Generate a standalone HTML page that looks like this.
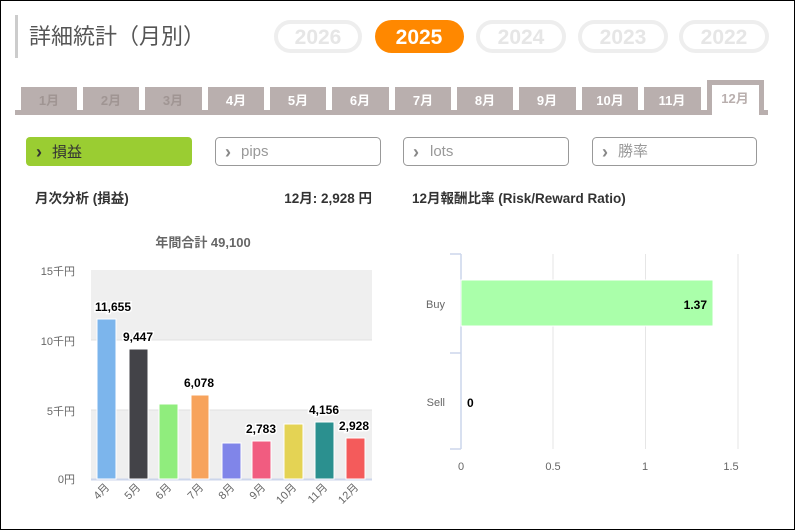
<!DOCTYPE html>
<html><head><meta charset="utf-8"><style>
body{margin:0;width:795px;height:530px;overflow:hidden;background:#fff}
svg{display:block}
text{font-family:"Liberation Sans","Noto Sans CJK JP",sans-serif}
</style></head><body>
<svg width="795" height="530" viewBox="0 0 795 530">
<rect x="0.5" y="0.5" width="794" height="529" fill="#fff" stroke="#000"/>
<rect x="15" y="15" width="3" height="43" fill="#ccc"/>
<text x="29" y="44" font-size="22" fill="#555">詳細統計（月別）</text>
<g font-size="21" font-weight="bold" text-anchor="middle">
<rect x="276" y="22" width="84" height="29" rx="14.5" fill="#fff" stroke="#eee" stroke-width="4"/><text x="318" y="44" fill="#e6e6e6">2026</text>
<rect x="375" y="20" width="89" height="33" rx="16.5" fill="#ff8800"/><text x="419" y="44" fill="#fff">2025</text>
<rect x="478" y="22" width="86" height="29" rx="14.5" fill="#fff" stroke="#eee" stroke-width="4"/><text x="521" y="44" fill="#e6e6e6">2024</text>
<rect x="580" y="22" width="86" height="29" rx="14.5" fill="#fff" stroke="#eee" stroke-width="4"/><text x="623" y="44" fill="#e6e6e6">2023</text>
<rect x="681" y="22" width="86" height="29" rx="14.5" fill="#fff" stroke="#eee" stroke-width="4"/><text x="724" y="44" fill="#e6e6e6">2022</text>
</g>
<rect x="15" y="110" width="753" height="5" fill="#b9afae"/>
<g font-size="13" font-weight="bold" text-anchor="middle">
<rect x="21" y="87" width="56" height="23" fill="#b9afae"/><text x="49" y="105" fill="#a09593">1月</text>
<rect x="83" y="87" width="56" height="23" fill="#b9afae"/><text x="111" y="105" fill="#a09593">2月</text>
<rect x="145" y="87" width="57" height="23" fill="#b9afae"/><text x="173" y="105" fill="#a09593">3月</text>
<rect x="208" y="87" width="56" height="23" fill="#b9afae"/><text x="236" y="105" fill="#fff">4月</text>
<rect x="270" y="87" width="56" height="23" fill="#b9afae"/><text x="298" y="105" fill="#fff">5月</text>
<rect x="332" y="87" width="57" height="23" fill="#b9afae"/><text x="360" y="105" fill="#fff">6月</text>
<rect x="395" y="87" width="56" height="23" fill="#b9afae"/><text x="423" y="105" fill="#fff">7月</text>
<rect x="457" y="87" width="56" height="23" fill="#b9afae"/><text x="485" y="105" fill="#fff">8月</text>
<rect x="519" y="87" width="57" height="23" fill="#b9afae"/><text x="547" y="105" fill="#fff">9月</text>
<rect x="582" y="87" width="56" height="23" fill="#b9afae"/><text x="610" y="105" fill="#fff">10月</text>
<rect x="644" y="87" width="57" height="23" fill="#b9afae"/><text x="672" y="105" fill="#fff">11月</text>
<rect x="707" y="80" width="57" height="35" fill="#b9afae"/><rect x="712" y="85" width="47" height="30" fill="#fff"/><text x="735" y="103" fill="#b9afae">12月</text>
</g>
<g font-size="15">
<rect x="26" y="137" width="166" height="29" rx="4" fill="#9acd32"/><text x="36" y="158" fill="#333" font-weight="bold" font-size="18">›</text><text x="52" y="157" fill="#333">損益</text>
<rect x="215.5" y="137.5" width="165" height="28" rx="4" fill="#fff" stroke="#999"/><text x="225" y="158" fill="#888" font-weight="bold" font-size="18">›</text><text x="241" y="156" fill="#999">pips</text>
<rect x="403.5" y="137.5" width="165" height="28" rx="4" fill="#fff" stroke="#999"/><text x="413" y="158" fill="#888" font-weight="bold" font-size="18">›</text><text x="430" y="156" fill="#999">lots</text>
<rect x="592.5" y="137.5" width="164" height="28" rx="4" fill="#fff" stroke="#999"/><text x="602" y="158" fill="#888" font-weight="bold" font-size="18">›</text><text x="618" y="156" fill="#999">勝率</text>
</g>
<g font-size="13.5" font-weight="bold" fill="#333">
<text x="35" y="203">月次分析 (損益)</text>
<text x="372" y="203" text-anchor="end">12月:  2,928 円</text>
<text x="412" y="203">12月報酬比率 (Risk/Reward Ratio)</text>
</g>
<text x="203" y="247" font-size="13" font-weight="bold" fill="#666" text-anchor="middle">年間合計 49,100</text>
<rect x="91" y="270" width="281" height="70" fill="#efefef"/>
<rect x="91" y="410" width="281" height="69" fill="#efefef"/>
<line x1="91" y1="340" x2="372" y2="340" stroke="#e2e2e2"/>
<line x1="91" y1="410" x2="372" y2="410" stroke="#e2e2e2"/>
<line x1="91" y1="479.5" x2="372" y2="479.5" stroke="#ccd6eb" stroke-width="2"/>
<g font-size="11" fill="#666" text-anchor="end">
<text x="75" y="275">15千円</text><text x="75" y="345">10千円</text><text x="75" y="415">5千円</text><text x="75" y="483">0円</text>
</g>
<g stroke="#fff" stroke-width="1">
<rect x="97" y="319" width="19" height="160" fill="#7cb5ec"/>
<rect x="129" y="349" width="19" height="130" fill="#434348"/>
<rect x="159" y="404" width="19" height="75" fill="#90ed7d"/>
<rect x="191" y="395" width="18" height="84" fill="#f7a35c"/>
<rect x="222" y="443" width="19" height="36" fill="#8085e9"/>
<rect x="252" y="441" width="19" height="38" fill="#f15c80"/>
<rect x="284" y="424" width="19" height="55" fill="#e4d354"/>
<rect x="315" y="422" width="19" height="57" fill="#2b908f"/>
<rect x="346" y="438" width="19" height="41" fill="#f45b5b"/>
</g>
<g font-size="12" font-weight="bold" fill="#000" text-anchor="middle" stroke="#fff" stroke-width="3" paint-order="stroke">
<text x="113" y="311">11,655</text><text x="138" y="341">9,447</text><text x="199" y="387">6,078</text>
<text x="261" y="433">2,783</text><text x="324" y="414">4,156</text><text x="354" y="430">2,928</text>
</g>
<g font-size="11" fill="#666" text-anchor="end">
<text transform="translate(110,488) rotate(-45)">4月</text>
<text transform="translate(141,488) rotate(-45)">5月</text>
<text transform="translate(172,488) rotate(-45)">6月</text>
<text transform="translate(204,488) rotate(-45)">7月</text>
<text transform="translate(235,488) rotate(-45)">8月</text>
<text transform="translate(266,488) rotate(-45)">9月</text>
<text transform="translate(297,488) rotate(-45)">10月</text>
<text transform="translate(328,488) rotate(-45)">11月</text>
<text transform="translate(359,488) rotate(-45)">12月</text>
</g>
<g stroke="#e6e6e6"><line x1="553" y1="254" x2="553" y2="449"/><line x1="645.5" y1="254" x2="645.5" y2="449"/><line x1="738" y1="254" x2="738" y2="449"/></g>
<g stroke="#ccd6eb" stroke-width="1.5" fill="none">
<line x1="461" y1="254" x2="461" y2="449"/>
<line x1="450" y1="254" x2="461" y2="254"/><line x1="450" y1="353" x2="461" y2="353"/><line x1="450" y1="449" x2="461" y2="449"/>
</g>
<rect x="461" y="280" width="252" height="46" fill="#aaffaa" stroke="#fff"/>
<g font-size="11" fill="#666" text-anchor="end"><text x="445" y="308">Buy</text><text x="445" y="406">Sell</text></g>
<g font-size="12" font-weight="bold" fill="#000"><text x="707" y="309" text-anchor="end">1.37</text><text x="467" y="407">0</text></g>
<g font-size="11" fill="#666" text-anchor="middle"><text x="461" y="470">0</text><text x="553" y="470">0.5</text><text x="645" y="470">1</text><text x="731" y="470">1.5</text></g>
</svg>
</body></html>
